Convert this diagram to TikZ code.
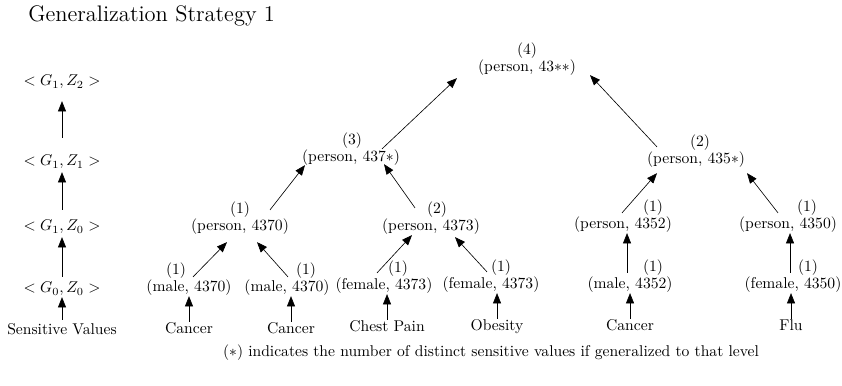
\documentclass[tikz,border=0pt]{standalone}
\usetikzlibrary{arrows.meta, positioning, calc}

\begin{document}
\begin{tikzpicture}[
    x=0.0225cm, y=-0.0225cm,
    val/.style={inner sep=0pt, text height=7.5pt, text depth=2.5pt},
    arrow/.style={-{Triangle[length=2.3mm, width=1.8mm]}},
    node distance=1pt
]
\useasboundingbox (0,0) rectangle (842,385);

% Title
\node[anchor=west, inner sep=0pt, font=\Large] (title) at (28,16) {Generalization Strategy 1};

% Levels on the left
\foreach \name/\y/\txt in {lz2/82/{$<G_1,Z_2>$}, lz1/162/{$<G_1,Z_1>$},
    lz0/227/{$<G_1,Z_0>$}, l00/289/{$<G_0,Z_0>$}, lsv/331/{Sensitive Values}} {
    \node[val] (\name) at (62,\y) {\txt};
}

% Generalized values
\foreach \name/\x/\y/\txt in {
    t4/527/68/{(person, 43$**$)},
    t3/351/158/{(person, 437$*$)},
    t2/696/160/{(person, 435$*$)},
    p4370/240/227/{(person, 4370)},
    p4373/431/227/{(person, 4373)},
    p4352/623/225/{(person, 4352)},
    p4350/788/225/{(person, 4350)},
    m4370a/189/288/{(male, 4370)},
    m4370b/287/288/{(male, 4370)},
    f4373a/384/286/{(female, 4373)},
    f4373b/491/285/{(female, 4373)},
    m4352/630/285/{(male, 4352)},
    f4350/793/285/{(female, 4350)}} {
    \node[val] (\name) at (\x,\y) {\txt};
}

% Counts, just above each value
\foreach \name/\dx/\n in {t4/0/4, t3/1/3, t2/4/2,
    p4370/0/1, p4373/6/2, p4352/30/1, p4350/19/1,
    m4370a/-13/1, m4370b/19/1, f4373a/14/1, f4373b/10/1,
    m4352/23/1, f4350/15/1} {
    \node[val, above=of \name, xshift=\dx*0.0225cm] (c\name) {(\n)};
}

% Sensitive values
\foreach \name/\x/\y/\txt in {s1/189/330/Cancer, s2/291/330/Cancer,
    s3/387/328/{Chest Pain}, s4/497/327/Obesity, s5/630/327/Cancer, s6/791/327/Flu} {
    \node[val] (\name) at (\x,\y) {\txt};
}

% Arrows, left column
\foreach \a/\ay/\b/\by in {lsv/-3/l00/0, l00/-4/lz0/2, lz0/-9/lz1/2, lz1/-16/lz2/11} {
    \draw[arrow] ([yshift=-\ay*0.0225cm]\a.north) -- ([yshift=-\by*0.0225cm]\b.south);
}

% Arrows, tree
\foreach \a/\ax/\ay/\b/\bx/\by in {
    m4370a/4/-3/p4370/-13/7,
    m4370b/1/-3/p4370/17/7,
    f4373a/-7/-5/p4373/-19/0,
    f4373b/-4/-5/p4373/24/2,
    p4370/30/-9/t3/-46/-1,
    p4373/-16/-11/t3/33/-2,
    t3/31/-1/t4/-70/2,
    m4352/-3/-4/p4352/4/0,
    f4350/-3/-4/p4350/2/0,
    p4352/-1/-4/t2/-39/5,
    p4350/-10/-4/t2/51/5,
    t2/-39/-5/t4/63/-1} {
    \draw[arrow] ([shift={(\ax,\ay)}]\a.north) -- ([shift={(\bx,\by)}]\b.south);
}

% Arrows from sensitive values
\foreach \s/\m in {s1/m4370a, s2/m4370b, s3/f4373a, s4/f4373b, s5/m4352, s6/f4350} {
    \draw[arrow] (\s.north) -- (\s.north |- \m.south);
}

% Note
\node[inner sep=0pt] (note) at (491,353) {($*$) indicates the number of distinct sensitive values if generalized to that level};

\end{tikzpicture}
\end{document}
